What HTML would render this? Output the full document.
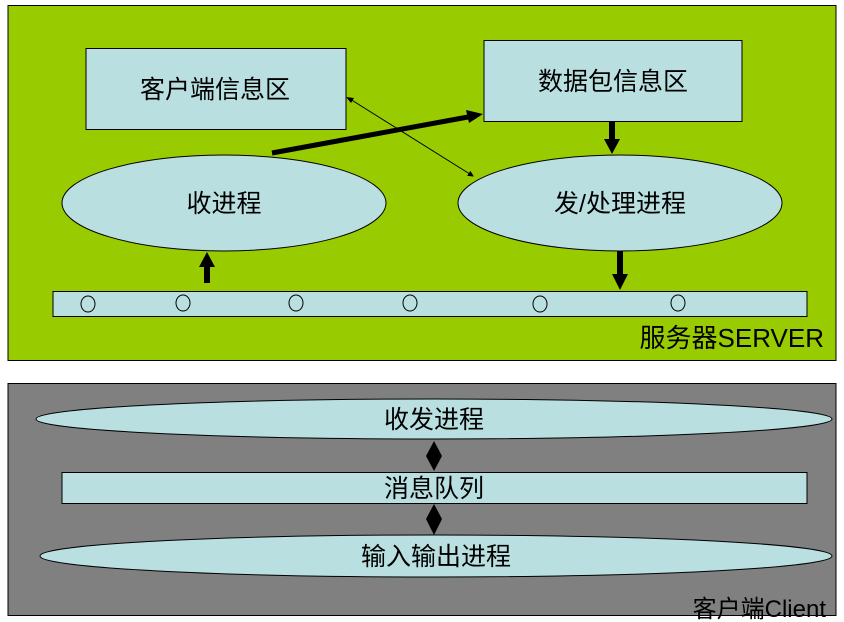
<!DOCTYPE html>
<html><head><meta charset="utf-8"><style>body{margin:0;background:#fff}svg{display:block}text{font-family:"Liberation Sans","Noto Sans CJK SC",sans-serif;fill:#000}</style></head><body>
<svg width="844" height="622" viewBox="0 0 844 622" xmlns="http://www.w3.org/2000/svg">
<defs>
<marker id="ah" markerWidth="6" markerHeight="6" refX="5" refY="3" orient="auto" markerUnits="userSpaceOnUse"><path d="M0,0 L6,3 L0,6 z" fill="#000"/></marker>
</defs>
<rect x="8" y="5.5" width="828" height="355" fill="#99cc00" stroke="#000" stroke-width="1"/>
<rect x="86" y="48.5" width="260" height="81" fill="#b9dfe0" stroke="#000"/>
<text x="215" y="98" font-size="25" text-anchor="middle">客户端信息区</text>
<rect x="484" y="40.5" width="258" height="81" fill="#b9dfe0" stroke="#000"/>
<text x="613" y="90" font-size="25" text-anchor="middle">数据包信息区</text>
<ellipse cx="224" cy="203" rx="162" ry="48" fill="#b9dfe0" stroke="#000"/>
<text x="224" y="212" font-size="25" text-anchor="middle">收进程</text>
<ellipse cx="620" cy="203" rx="162" ry="48" fill="#b9dfe0" stroke="#000"/>
<text x="620" y="212" font-size="25" text-anchor="middle">发/处理进程</text>
<rect x="53" y="291.5" width="754" height="25" fill="#b9dfe0" stroke="#000"/>
<g fill="none" stroke="#000">
<ellipse cx="88" cy="304" rx="7" ry="8"/><ellipse cx="183" cy="303" rx="7" ry="8"/><ellipse cx="296" cy="303" rx="7" ry="8"/><ellipse cx="410" cy="303" rx="7" ry="8"/><ellipse cx="540" cy="304" rx="7" ry="8"/><ellipse cx="678" cy="303" rx="7" ry="8"/>
</g>
<line x1="272" y1="153" x2="468" y2="117" stroke="#000" stroke-width="5"/>
<path d="M483,114 L466,110 L469,123 z" fill="#000"/>
<line x1="350" y1="99" x2="473" y2="176" stroke="#000" stroke-width="1" marker-end="url(#ah)"/>
<path d="M346,97 L354,98 L351,103 z" fill="#000"/>
<rect x="609" y="121" width="6" height="20" fill="#000"/><path d="M604,139 L620,139 L612,154 z" fill="#000"/>
<rect x="204" y="266" width="6" height="17" fill="#000"/><path d="M199,267 L215,267 L207,252 z" fill="#000"/>
<rect x="617" y="251" width="6" height="25" fill="#000"/><path d="M612,274 L628,274 L620,290 z" fill="#000"/>
<text x="824" y="347" font-size="26" text-anchor="end">服务器SERVER</text>
<rect x="8" y="383.5" width="828" height="232" fill="#808080" stroke="#000"/>
<ellipse cx="434" cy="419" rx="398" ry="20" fill="#b9dfe0" stroke="#000"/>
<text x="434" y="428" font-size="25" text-anchor="middle">收发进程</text>
<rect x="62" y="472.5" width="745" height="31" fill="#b9dfe0" stroke="#000"/>
<text x="434" y="497" font-size="25" text-anchor="middle">消息队列</text>
<ellipse cx="436" cy="556" rx="396" ry="21" fill="#b9dfe0" stroke="#000"/>
<text x="436" y="565" font-size="25" text-anchor="middle">输入输出进程</text>
<path d="M434,441 L442,456 L434,471 L426,456 z" fill="#000"/>
<path d="M434,504 L442,519 L434,535 L426,519 z" fill="#000"/>
<text x="826" y="617" font-size="24" text-anchor="end">客户端Client</text>
</svg>
</body></html>
